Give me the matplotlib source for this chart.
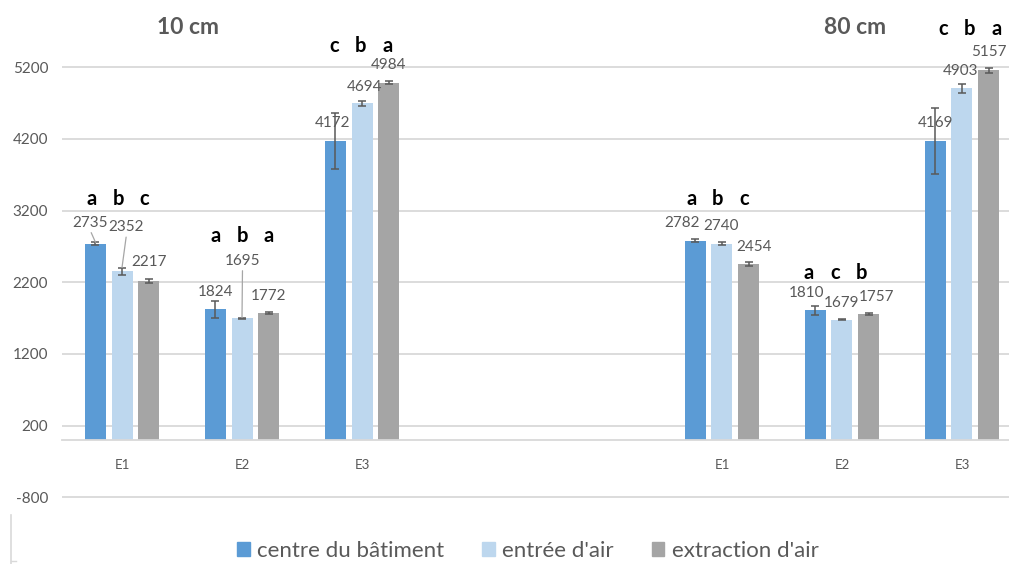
import numpy as np
import matplotlib
matplotlib.use("Agg")
import matplotlib.pyplot as plt
from matplotlib.patches import Rectangle
from matplotlib.lines import Line2D

# ---------------- data ----------------
depths = ["10 cm", "80 cm"]
sites = ["E1", "E2", "E3"]
series = ["centre du bâtiment", "entrée d'air", "extraction d'air"]

centre_10 = [2735, 1824, 4172]
entree_10 = [2352, 1695, 4694]
extraction_10 = [2217, 1772, 4984]
centre_80 = [2782, 1810, 4169]
entree_80 = [2740, 1679, 4903]
extraction_80 = [2454, 1757, 5157]

err_centre_10 = [22, 120, 390]
err_entree_10 = [52, 10, 35]
err_extraction_10 = [30, 10, 25]
err_centre_80 = [20, 60, 460]
err_entree_80 = [15, 10, 65]
err_extraction_80 = [25, 10, 35]

letters_10 = [["a", "b", "c"], ["a", "b", "a"], ["c", "b", "a"]]
letters_80 = [["a", "b", "c"], ["a", "c", "b"], ["c", "b", "a"]]

yticks = [-800, 200, 1200, 2200, 3200, 4200, 5200]

# ---------------- styling / layout ----------------
colors = ["#5b9bd5", "#bdd7ee", "#a5a5a5"]
txt_grey = "#595959"
grid_grey = "#d9d9d9"
FONT = ["Lato", "DejaVu Sans"]
plt.rcParams["font.family"] = FONT

W, H = 1009, 564
fig = plt.figure(figsize=(W / 100, H / 100), dpi=100)
ax_left_px, ax_w_px = 62, 960
ylo, yhi = -1100, 6000
ax = fig.add_axes([ax_left_px / W, 0.080, ax_w_px / W, 0.9027])
ax.set_xlim(-0.5, 7.5)
ax.set_ylim(ylo, yhi)

vals = [[centre_10, entree_10, extraction_10], [centre_80, entree_80, extraction_80]]
errs = [[err_centre_10, err_entree_10, err_extraction_10],
        [err_centre_80, err_entree_80, err_extraction_80]]
letters = [letters_10, letters_80]

group_start = [0, 5]
bar_w = 0.175
bar_step = 0.221

# data label offsets (pixels, relative to bar top) [depth][site][series]
lab_off = [
    [[(-5.5, 21), (4.5, 44), (1, 19)],
     [(0.5, 17), (0.5, 57.5), (0, 17)],
     [(-2.5, 18), (2.5, 16.4), (0.5, 17.6)]],
    [[(-13, 17.5), (-1, 17.5), (5.5, 17)],
     [(-8.5, 17), (-0.5, 16.6), (8.5, 17)],
     [(0, 18), (-1.5, 17.5), (0, 18)]],
]
leaders = {(0, 0, 0), (0, 0, 1), (0, 1, 1)}
letter_base = [[3278, 2766, 5416], [3278, 2241, 5649]]
letter_dx = [[-4, 0, -1], [-4, -7, 8]]

ax.yaxis.grid(True, color=grid_grey, lw=1.3)
ax.set_axisbelow(True)
ax.set_yticks(yticks)
ax.set_yticklabels([str(t) for t in yticks])
ax.tick_params(axis="y", length=0, pad=10, labelsize=11, labelcolor=txt_grey)
for s in ["left", "right", "top"]:
    ax.spines[s].set_visible(False)
ax.spines["bottom"].set_position(("data", 0))
ax.spines["bottom"].set_color(grid_grey)
ax.spines["bottom"].set_linewidth(1.3)

xt, xl = [], []
for d in range(2):
    for i, s in enumerate(sites):
        xt.append(group_start[d] + i)
        xl.append(s)
ax.set_xticks(xt)
ax.set_xticklabels(xl)
ax.tick_params(axis="x", length=0, pad=14, labelsize=9.5, labelcolor=txt_grey)

def px_per_unit_y():
    p0 = ax.transData.transform((0, 0))
    p1 = ax.transData.transform((0, 1000))
    return (p1[1] - p0[1]) / 1000.0

for d in range(2):
    x0 = np.arange(3) + group_start[d]
    for k in range(3):
        xs = x0 + (k - 1) * bar_step
        ax.bar(xs, vals[d][k], width=bar_w, color=colors[k],
               label=series[k] if d == 0 else None, zorder=2)
        ax.errorbar(xs, vals[d][k], yerr=errs[d][k], fmt="none",
                    ecolor="#595959", elinewidth=1.1, capsize=3, capthick=1.1, zorder=3)

fig.canvas.draw()
ppu = px_per_unit_y()

for d in range(2):
    x0 = np.arange(3) + group_start[d]
    for i in range(3):
        for k in range(3):
            xb = x0[i] + (k - 1) * bar_step
            v = vals[d][k][i]
            e = errs[d][k][i]
            dx, dy = lab_off[d][i][k]
            if (d, i, k) in leaders:
                epx = e * ppu
                ax.annotate(str(v), xy=(xb, v + e), xytext=(dx, dy - epx),
                            textcoords="offset pixels", ha="center", va="center",
                            fontsize=11, color=txt_grey, zorder=4,
                            arrowprops=dict(arrowstyle="-", color="#a6a6a6", lw=0.9,
                                            shrinkA=0, shrinkB=0, relpos=(0.5, 0)))
            else:
                ax.annotate(str(v), xy=(xb, v), xytext=(dx, dy),
                            textcoords="offset pixels", ha="center", va="center",
                            fontsize=11, color=txt_grey, zorder=4)
            ax.annotate(letters[d][i][k], xy=(xb, letter_base[d][i]),
                        xytext=(letter_dx[d][i], 0), textcoords="offset pixels",
                        ha="center", va="baseline", fontsize=14.5, fontweight="bold",
                        color="black", annotation_clip=False)

# panel titles
fig.text(188 / W, 1 - 28 / H, depths[0], ha="center", va="center",
         fontsize=16.5, fontweight="bold", color=txt_grey)
fig.text(855 / W, 1 - 28 / H, depths[1], ha="center", va="center",
         fontsize=16.5, fontweight="bold", color=txt_grey)

# legend
handles = [Rectangle((0, 0), 1, 1, color=c) for c in colors]
leg = fig.legend(handles, series, loc="center", bbox_to_anchor=(528 / W, 1 - 551 / H),
                 ncol=3, frameon=False, fontsize=16, handlelength=0.55, handleheight=0.55,
                 handletextpad=0.35, columnspacing=1.7)
for t in leg.get_texts():
    t.set_color(txt_grey)

# stray border line at the bottom-left of the screenshot
fig.add_artist(Line2D([11 / W, 11 / W], [0, 1 - 515 / H], color="#d9d9d9", lw=1.2))
fig.add_artist(Line2D([11 / W, 16 / W], [1 - 561 / H, 1 - 561 / H], color="#d9d9d9", lw=1.0))

fig.savefig("out.png", dpi=100)
